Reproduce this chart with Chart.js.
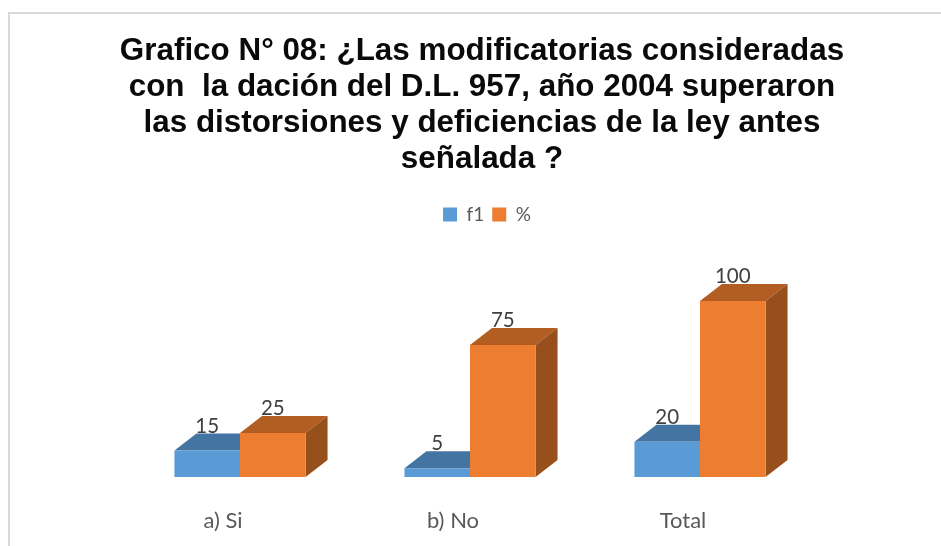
<!DOCTYPE html>
<html>
<head>
<meta charset="utf-8">
<style>
html,body{margin:0;padding:0;background:#fff;width:941px;height:546px;overflow:hidden}
#frame{position:absolute;left:8px;top:12px;right:0;bottom:0;border-left:2.5px solid #d9d9d9;border-top:2.5px solid #d9d9d9}
#wrap{position:absolute;left:0;top:0;width:941px;height:546px;filter:blur(0.45px)}
</style>
<script src="https://cdn.jsdelivr.net/npm/chart.js@4"></script>
</head>
<body>
<div id="frame"></div>
<div id="wrap"><canvas id="c" width="941" height="546"></canvas></div>
<script>
const titleLines = [
  "Grafico N° 08: ¿Las modificatorias consideradas",
  "con  la dación del D.L. 957, año 2004 superaron",
  "las distorsiones y deficiencias de la ley antes",
  "señalada ?"
];
const categories = ["a) Si", "b) No", "Total"];
const seriesNames = ["f1", "%"];
const f1Values = [15, 5, 20];
const pctValues = [25, 75, 100];
const frontColors = ["#5B9BD5", "#ED7D31"];
const topColors = ["#4474A2", "#B25E22"];
const sideColors = ["#3A6690", "#97501C"];

const DEPTH_X = 22, DEPTH_Y = 17;

const bars3d = {
  id: "bars3d",
  afterLayout(chart) {
    chart.titleBlock.left = 11.5; chart.titleBlock.right = 952.5;
    chart.legend.left += 17; chart.legend.right += 17;
    chart.legend.legendHitBoxes.forEach(b => { b.left += 17; });
  },
  beforeDatasetsDraw(chart) {
    const ctx = chart.ctx;
    chart.data.datasets.forEach((ds, i) => {
      chart.getDatasetMeta(i).data.forEach(bar => {
        const l = bar.x - bar.width / 2, r = bar.x + bar.width / 2, t = bar.y, b = bar.base;
        ctx.fillStyle = topColors[i];
        ctx.beginPath();
        ctx.moveTo(l, t); ctx.lineTo(l + DEPTH_X, t - DEPTH_Y);
        ctx.lineTo(r + DEPTH_X, t - DEPTH_Y); ctx.lineTo(r, t);
        ctx.closePath(); ctx.fill();
        ctx.fillStyle = sideColors[i];
        ctx.beginPath();
        ctx.moveTo(r, t); ctx.lineTo(r + DEPTH_X, t - DEPTH_Y);
        ctx.lineTo(r + DEPTH_X, b - DEPTH_Y); ctx.lineTo(r, b);
        ctx.closePath(); ctx.fill();
      });
    });
  },
  afterDatasetsDraw(chart) {
    const ctx = chart.ctx;
    ctx.save();
    ctx.font = "20.5px Lato";
    ctx.fillStyle = "#404040";
    ctx.textAlign = "center";
    ctx.textBaseline = "middle";
    chart.data.datasets.forEach((ds, i) => {
      chart.getDatasetMeta(i).data.forEach((bar, j) => {
        ctx.fillText(String(ds.data[j]), bar.x, bar.y - 24.5);
      });
    });
    ctx.restore();
  }
};

new Chart(document.getElementById("c"), {
  type: "bar",
  data: {
    labels: categories,
    datasets: [
      { label: seriesNames[0], data: f1Values, backgroundColor: frontColors[0] },
      { label: seriesNames[1], data: pctValues, backgroundColor: frontColors[1] }
    ]
  },
  plugins: [bars3d],
  options: {
    responsive: false,
    animation: false,
    layout: { padding: { left: 125, right: 126, top: 0, bottom: 0 } },
    datasets: { bar: { categoryPercentage: 0.57, barPercentage: 1 } },
    plugins: {
      tooltip: { enabled: false },
      title: {
        display: true,
        text: titleLines,
        color: "#0a0a0a",
        font: { family: "Liberation Sans", size: 31.4, weight: "bold", lineHeight: 1.1465 },
        padding: { top: 33, bottom: 20 }
      },
      legend: {
        display: true,
        position: "top",
        labels: {
          color: "#595959",
          font: { family: "Lato", size: 19 },
          boxWidth: 14, boxHeight: 14,
          padding: 8
        }
      }
    },
    scales: {
      x: {
        afterFit(scale) { scale.height = 69; },
        grid: { display: false, drawTicks: false },
        border: { display: false },
        ticks: { color: "#595959", font: { family: "Lato", size: 22 }, padding: 31, labelOffset: -17, maxRotation: 0 }
      },
      y: { display: false, min: 0, max: 138 }
    }
  }
});
</script>
</body>
</html>
